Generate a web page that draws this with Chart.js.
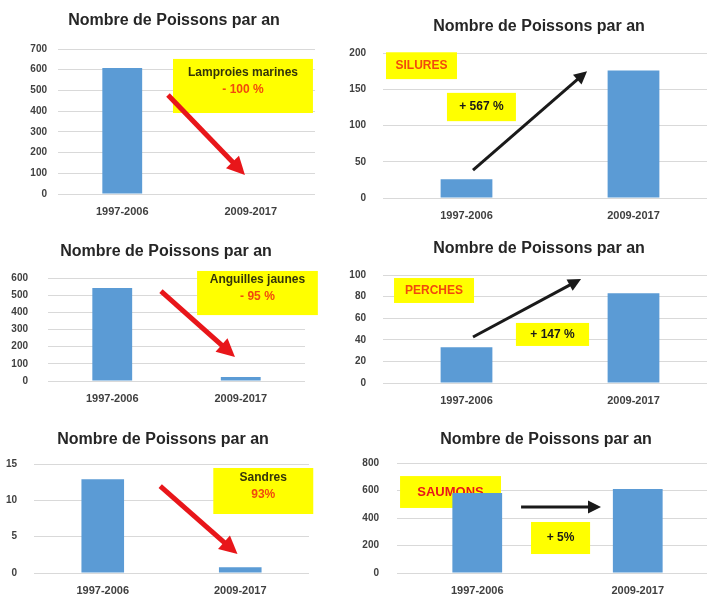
<!DOCTYPE html>
<html lang="fr">
<head>
<meta charset="UTF-8">
<title>Nombre de Poissons par an</title>
<script src="https://cdn.jsdelivr.net/npm/chart.js"></script>
<style>
    html, body { margin: 0; padding: 0; background: #fff; overflow: hidden; width: 707px; height: 594px; }
    .panel { position: absolute; }
</style>
</head>
<body>

<script>
const periods = ['1997-2006', '2009-2017'];
const lamproies = [608, 0];
const silures = [26, 176];
const anguilles = [542, 23];
const perches = [33, 83];
const sandres = [12.9, 0.8];
const saumons = [582, 611];
const yMax = [700, 200, 600, 100, 15, 800];
const yStep = [100, 50, 100, 20, 5, 200];
const series = [lamproies, silures, anguilles, perches, sandres, saumons];
const chartTitle = 'Nombre de Poissons par an';

const FONT = "'Liberation Sans', Arial, sans-serif";
const BLUE = '#5b9bd5';
const YELLOW = '#ffff00';
const OLIVE = '#34340a';
const ORANGE = '#f24a0c';
const RED = '#e8161a';
const DARK = '#1a1a1a';

// Emplacement de chaque graphique dans la page (plot = gauche, haut, droite, bas)
const frames = [
    { left: 0,   top: 0,   width: 322, plot: [58, 49, 315, 194],  titleX: 174, titleY: 21,  yPad: 11 },
    { left: 340, top: 0,   width: 380, plot: [383, 53, 717, 198], titleX: 539, titleY: 27,  yPad: 17 },
    { left: 0,   top: 220, width: 322, plot: [48, 278, 305, 381], titleX: 166, titleY: 252, yPad: 20 },
    { left: 340, top: 220, width: 380, plot: [383, 275, 717, 383], titleX: 539, titleY: 249, yPad: 17 },
    { left: 0,   top: 410, width: 322, plot: [34, 464, 309, 573], titleX: 163, titleY: 440, yPad: 17 },
    { left: 340, top: 410, width: 380, plot: [397, 463, 718, 573], titleX: 546, titleY: 440, yPad: 18 }
];

// Encadrés et flèches, en unités des axes (catégorie, valeur)
const notes = [
    {
        boxes: [{ x: [0.395, 1.484], y: [652, 391], size: 12, lines: [['Lamproies marines', OLIVE], ['- 100 %', ORANGE]] }],
        arrows: [{ from: [0.356, 478], to: [0.955, 92], color: RED, width: 5, head: 18 }]
    },
    {
        boxes: [
            { x: [-0.482, -0.057], y: [201, 164], size: 12, lines: [['SILURES', ORANGE]] },
            { x: [-0.117, 0.296], y: [145, 106], size: 12, lines: [['+ 567 %', DARK]] }
        ],
        arrows: [{ from: [0.039, 38.6], to: [0.722, 175], color: DARK, width: 3, head: 13 }]
    },
    {
        boxes: [{ x: [0.66, 1.6], y: [641, 384], size: 12, lines: [['Anguilles jaunes', OLIVE], ['- 95 %', ORANGE]] }],
        arrows: [{ from: [0.379, 524], to: [0.955, 140], color: RED, width: 5, head: 18 }]
    },
    {
        boxes: [
            { x: [-0.434, 0.045], y: [97.2, 74.1], size: 12, lines: [['PERCHES', ORANGE]] },
            { x: [0.296, 0.734], y: [55.6, 34.3], size: 12, lines: [['+ 147 %', DARK]] }
        ],
        arrows: [{ from: [0.039, 42.6], to: [0.686, 96.3], color: DARK, width: 3, head: 13 }]
    },
    {
        boxes: [{ x: [0.804, 1.531], y: [14.45, 8.12], size: 12, lines: [['Sandres', OLIVE], ['93%', ORANGE]] }],
        arrows: [{ from: [0.418, 11.97], to: [0.98, 2.61], color: RED, width: 5, head: 18 }]
    },
    {
        boxes: [
            { x: [-0.481, 0.148], y: [705, 473], size: 13, lines: [['SAUMONS', RED]] },
            { x: [0.335, 0.703], y: [371, 138], size: 12, lines: [['+ 5%', DARK]] }
        ],
        arrows: [{ from: [0.273, 480], to: [0.771, 480], color: DARK, width: 3, head: 13 }]
    }
];

// Plugin : titre, encadrés jaunes (sous les barres) et flèches (au-dessus)
function makeNotes(n, f) {
    return {
        id: 'notes',
        beforeDatasetsDraw(chart) {
            const ctx = chart.ctx, xs = chart.scales.x, ys = chart.scales.y;
            n.boxes.forEach(b => {
                const x0 = xs.getPixelForValue(b.x[0]), x1 = xs.getPixelForValue(b.x[1]);
                const y0 = ys.getPixelForValue(b.y[0]), y1 = ys.getPixelForValue(b.y[1]);
                ctx.save();
                ctx.fillStyle = YELLOW;
                ctx.fillRect(x0, y0, x1 - x0, y1 - y0);
                ctx.font = 'bold ' + b.size + 'px ' + FONT;
                ctx.textAlign = 'center';
                ctx.textBaseline = 'middle';
                const lh = 17, k = b.lines.length;
                const start = y0 + (y1 - y0 - k * lh) / 2 + lh / 2 - (k > 1 ? 5 : 0);
                b.lines.forEach((l, i) => {
                    ctx.fillStyle = l[1];
                    ctx.fillText(l[0], (x0 + x1) / 2, start + i * lh);
                });
                ctx.restore();
            });
        },
        afterDatasetsDraw(chart) {
            const ctx = chart.ctx, xs = chart.scales.x, ys = chart.scales.y;
            n.arrows.forEach(a => {
                const ax = xs.getPixelForValue(a.from[0]), ay = ys.getPixelForValue(a.from[1]);
                const bx = xs.getPixelForValue(a.to[0]), by = ys.getPixelForValue(a.to[1]);
                const ang = Math.atan2(by - ay, bx - ax);
                const h = a.head;
                ctx.save();
                ctx.strokeStyle = a.color;
                ctx.fillStyle = a.color;
                ctx.lineWidth = a.width;
                ctx.beginPath();
                ctx.moveTo(ax, ay);
                ctx.lineTo(bx - Math.cos(ang) * h * 0.8, by - Math.sin(ang) * h * 0.8);
                ctx.stroke();
                ctx.beginPath();
                ctx.moveTo(bx, by);
                ctx.lineTo(bx - Math.cos(ang) * h + Math.sin(ang) * h * 0.5, by - Math.sin(ang) * h - Math.cos(ang) * h * 0.5);
                ctx.lineTo(bx - Math.cos(ang) * h - Math.sin(ang) * h * 0.5, by - Math.sin(ang) * h + Math.cos(ang) * h * 0.5);
                ctx.closePath();
                ctx.fill();
                ctx.restore();
            });
        },
        afterDraw(chart) {
            const ctx = chart.ctx;
            ctx.save();
            ctx.font = 'bold 16px ' + FONT;
            ctx.fillStyle = '#262626';
            ctx.textAlign = 'center';
            ctx.textBaseline = 'middle';
            ctx.fillText(chartTitle, f.titleX - f.left, f.titleY - f.top);
            ctx.restore();
        }
    };
}

frames.forEach((f, i) => {
    const axisH = 30;
    const height = f.plot[3] - f.top + axisH;
    const div = document.createElement('div');
    div.className = 'panel';
    div.style.left = f.left + 'px';
    div.style.top = f.top + 'px';
    div.style.width = f.width + 'px';
    div.style.height = height + 'px';
    const canvas = document.createElement('canvas');
    div.appendChild(canvas);
    document.body.appendChild(div);

    new Chart(canvas, {
        type: 'bar',
        data: {
            labels: periods,
            datasets: [{
                data: series[i],
                backgroundColor: BLUE,
                barPercentage: 0.31,
                categoryPercentage: 1
            }]
        },
        options: {
            responsive: true,
            maintainAspectRatio: false,
            animation: false,
            layout: { padding: { left: 0, top: f.plot[1] - f.top, bottom: 0, right: f.width - (f.plot[2] - f.left) } },
            plugins: {
                legend: { display: false },
                tooltip: { enabled: false },
                title: { display: false }
            },
            scales: {
                x: {
                    grid: { display: false, drawTicks: false },
                    border: { display: false },
                    ticks: { color: '#404040', padding: 11, font: { family: FONT, size: 11, weight: 'bold' } },
                    afterFit: s => { s.height = axisH; }
                },
                y: {
                    min: 0,
                    max: yMax[i],
                    grid: { color: '#d9d9d9', drawTicks: false },
                    border: { display: false },
                    ticks: { stepSize: yStep[i], color: '#404040', padding: f.yPad, font: { family: FONT, size: 10, weight: 'bold' } },
                    afterFit: s => { s.width = f.plot[0] - f.left; }
                }
            }
        },
        plugins: [makeNotes(notes[i], f)]
    });
});
</script>
</body>
</html>
